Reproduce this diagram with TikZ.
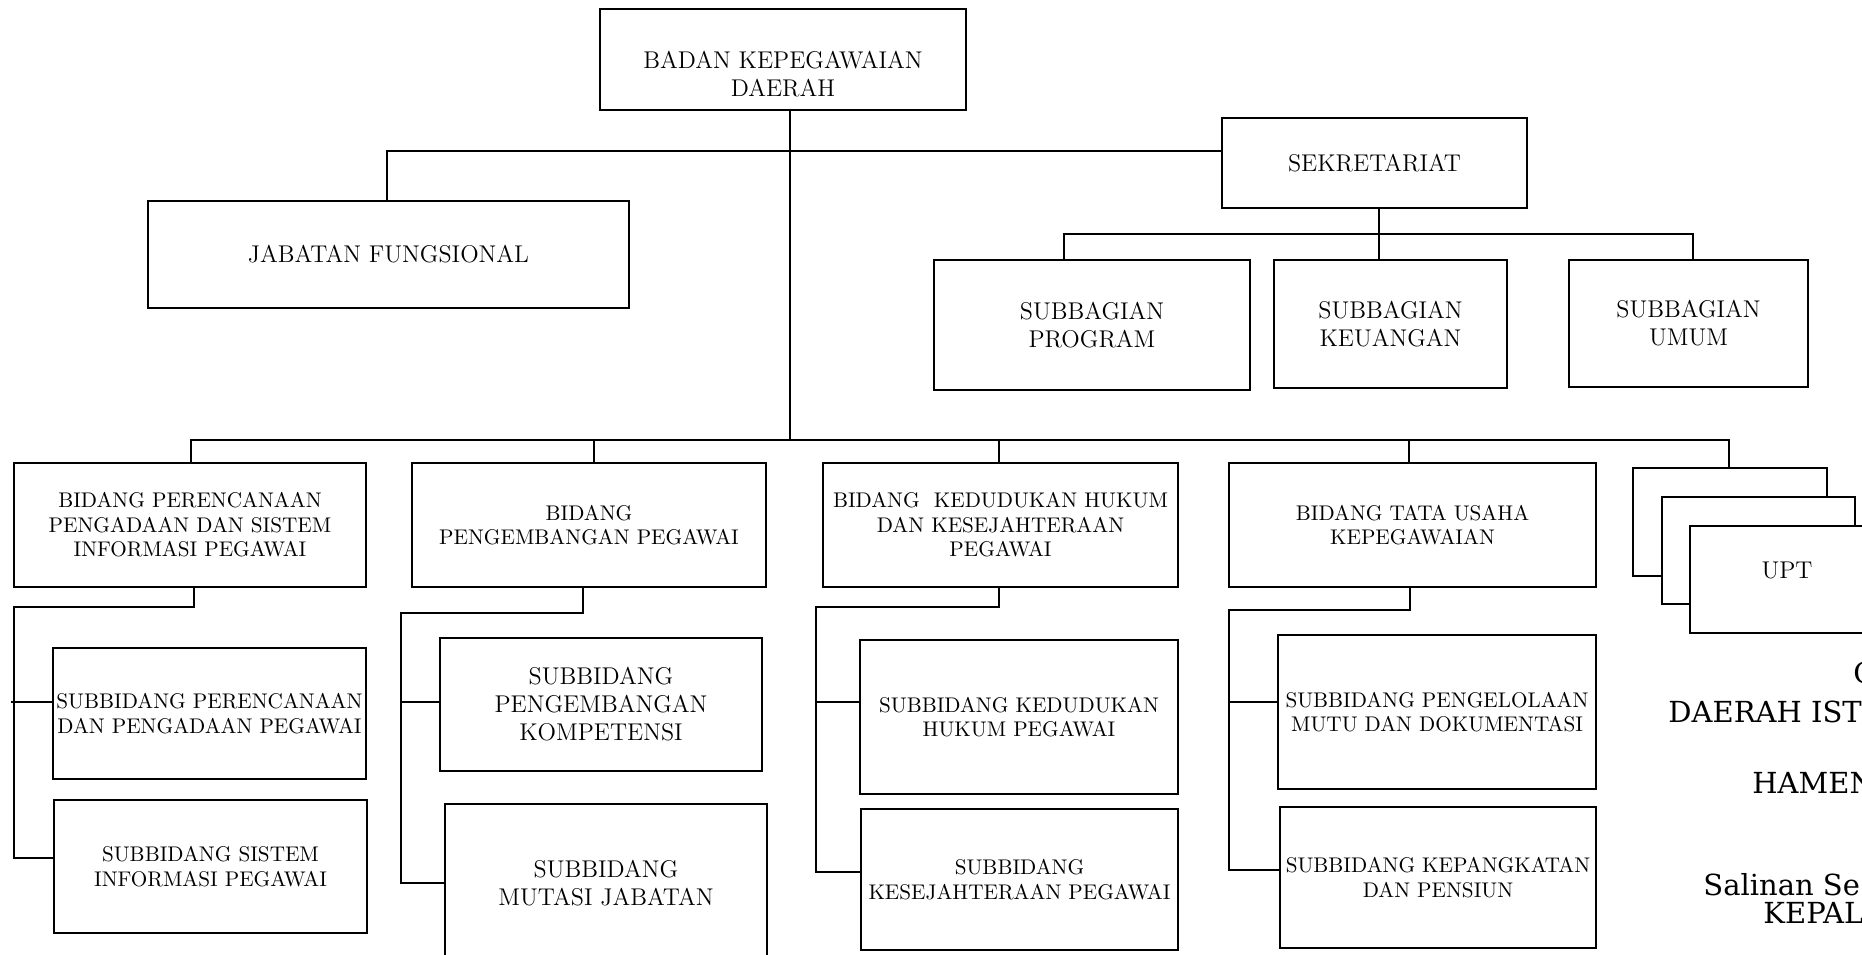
\documentclass[tikz,border=0pt]{standalone}
\usepackage{fontspec}
\newfontfamily\sidefont{DejaVu Serif}
\begin{document}
\begin{tikzpicture}[x=0.5pt,y=-0.5pt,
  box/.style 2 args={draw, line width=1.3pt, fill=white, minimum width=#1*0.5pt, minimum height=#2*0.5pt, inner sep=0pt, align=center},
  small/.style={font=\fontsize{10.6}{12.25}\selectfont},
  big/.style={font=\fontsize{12.1}{14}\selectfont},
  conn/.style={line width=1.1pt},
  trunk/.style={line width=0.9pt},
  side/.style={font=\sidefont\fontsize{14.5}{17}\selectfont, inner sep=0pt, anchor=base west}
]
\useasboundingbox (0,0) rectangle (1862,954);
\clip (0,0) rectangle (1862,954);

% top level
\node[box={366}{101}] (bk) at (783,59.5) {};
\node[big, align=center, inner sep=0pt] (bkt) at (783,74.5) {BADAN KEPEGAWAIAN\\DAERAH};
\node[box={481}{107}, big] (jf) at (388.5,254.5) {JABATAN FUNGSIONAL};
\node[box={305}{90}, big] (sek) at (1374.5,163) {SEKRETARIAT};
\node[box={316}{130}, big] (sp) at (1092,325) {SUBBAGIAN\\PROGRAM};
\node[box={233}{128}, big] (sk) at (1390.5,324) {SUBBAGIAN\\KEUANGAN};
\node[box={239}{127}, big] (su) at (1688.5,323.5) {SUBBAGIAN\\UMUM};

% bidang
\node[box={352}{124}, small] (b1) at (190,525) {BIDANG PERENCANAAN\\PENGADAAN DAN SISTEM\\INFORMASI PEGAWAI};
\node[box={354}{124}, small] (b2) at (589,525) {BIDANG\\PENGEMBANGAN PEGAWAI};
\node[box={355}{124}, small] (b3) at (1000.5,525) {BIDANG\ \ KEDUDUKAN HUKUM\\DAN KESEJAHTERAAN\\PEGAWAI};
\node[box={367}{124}, small] (b4) at (1412.5,525) {BIDANG TATA USAHA\\KEPEGAWAIAN};

% UPT stack
\node[box={194}{108}] (u1) at (1730,522) {};
\node[box={193}{107}] (u2) at (1758.5,550.5) {};
\node[box={194}{107}] (u3) at (1787,579.5) {};
\node[big, inner sep=0pt] (ut) at (1787,570) {UPT};

% subbidang
\node[box={313}{131}, small] (s11) at (209.5,713.5) {SUBBIDANG PERENCANAAN\\DAN PENGADAAN PEGAWAI};
\node[box={313}{133}, small] (s12) at (210.5,866.5) {SUBBIDANG SISTEM\\INFORMASI PEGAWAI};
\node[box={322}{133}, big] (s21) at (601,704.5) {SUBBIDANG\\PENGEMBANGAN\\KOMPETENSI};
\node[box={322}{159}, big] (s22) at (606,883.5) {SUBBIDANG\\MUTASI JABATAN};
\node[box={318}{154}, small] (s31) at (1019,717) {SUBBIDANG KEDUDUKAN\\HUKUM PEGAWAI};
\node[box={317}{141}, small] (s32) at (1019.5,879.5) {SUBBIDANG\\KESEJAHTERAAN PEGAWAI};
\node[box={318}{154}, small] (s41) at (1437,712) {SUBBIDANG PENGELOLAAN\\MUTU DAN DOKUMENTASI};
\node[box={316}{141}, small] (s42) at (1438,877.5) {SUBBIDANG KEPANGKATAN\\DAN PENSIUN};

% connectors: top
\coordinate (tb) at (790,440);
\draw[trunk] (bk.south -| tb) -- (tb);
\coordinate (jc) at (387,151);
\draw[conn] (sek.west |- jc) -- (jc) -- (jc |- jf.north);
\coordinate (sc) at (1379,234);
\coordinate (spc) at (1064,234);
\coordinate (suc) at (1693,234);
\draw[conn] (sek.south -| sc) -- (sc) -- (sc |- sk.north);
\draw[conn] (spc |- sp.north) -- (spc) -- (suc) -- (suc |- su.north);

% bus
\coordinate (busL) at (191,440);
\coordinate (busR) at (1729,440);
\coordinate (k2) at (594,440);
\coordinate (k3) at (999,440);
\coordinate (k4) at (1409,440);
\draw[conn] (b1.north -| busL) -- (busL) -- (busR) -- (busR |- u1.north);
\draw[conn] (k2) -- (k2 |- b2.north);
\draw[conn] (k3) -- (k3 |- b3.north);
\draw[conn] (k4) -- (k4 |- b4.north);

% column 1
\coordinate (c1a) at (194,607); \coordinate (c1b) at (14,607);
\coordinate (c1c) at (14,858);  \coordinate (c1d) at (11,702);
\draw[conn] (b1.south -| c1a) -- (c1a) -- (c1b) -- (c1c) -- (c1c -| s12.west);
\draw[conn] (c1d) -- (c1d -| s11.west);
% column 2
\coordinate (c2a) at (583,613); \coordinate (c2b) at (401,613);
\coordinate (c2c) at (401,883); \coordinate (c2d) at (401,702);
\draw[conn] (b2.south -| c2a) -- (c2a) -- (c2b) -- (c2c) -- (c2c -| s22.west);
\draw[conn] (c2d) -- (c2d -| s21.west);
% column 3
\coordinate (c3a) at (999,607); \coordinate (c3b) at (816,607);
\coordinate (c3c) at (816,872); \coordinate (c3d) at (816,702);
\draw[conn] (b3.south -| c3a) -- (c3a) -- (c3b) -- (c3c) -- (c3c -| s32.west);
\draw[conn] (c3d) -- (c3d -| s31.west);
% column 4
\coordinate (c4a) at (1410,610); \coordinate (c4b) at (1229,610);
\coordinate (c4c) at (1229,870); \coordinate (c4d) at (1229,702);
\draw[conn] (b4.south -| c4a) -- (c4a) -- (c4b) -- (c4c) -- (c4c -| s42.west);
\draw[conn] (c4d) -- (c4d -| s41.west);

% cut-off text at right edge
\node[side] (t0) at (1853,683) {G};
\node[side] (t1) at (1668,722) {DAERAH IST};
\node[side] (t2) at (1752,793) {HAMEN};
\node[side] (t3) at (1703,895) {Salinan Se};
\node[side] (t4) at (1763,923) {KEPAL};
\end{tikzpicture}
\end{document}
